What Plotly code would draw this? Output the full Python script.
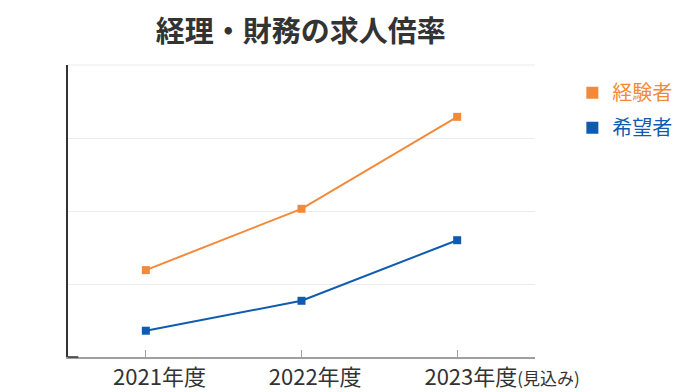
import plotly.graph_objects as go

categories = ["2021年度", "2022年度", "2023年度<span style='font-size:17px'>(見込み)</span>"]
experienced = [1.19, 2.03, 3.29]
hopeful = [0.36, 0.77, 1.60]
series_names = ["経験者", "希望者"]
colors = ["#F28A3A", "#0F5BAF"]

FONT = "Noto Sans CJK JP"
fig = go.Figure()
for vals, name, col, grp in [(experienced, series_names[0], colors[0], "a"),
                             (hopeful, series_names[1], colors[1], "b")]:
    fig.add_trace(go.Scatter(
        x=categories, y=vals, mode="lines+markers", name=name,
        line=dict(color=col, width=2),
        marker=dict(symbol="square", size=8, color=col),
        showlegend=False, hoverinfo="skip"))
    fig.add_trace(go.Scatter(
        x=[None], y=[None], mode="markers", legendgroup=grp,
        name=f"<span style='color:{col}'>{name}</span>",
        marker=dict(symbol="square", size=15, color=col)))

fig.update_layout(
    width=693, height=392,
    margin=dict(l=68, r=158, t=65, b=35, autoexpand=False),
    paper_bgcolor="white", plot_bgcolor="white",
    font=dict(family=FONT, color="#333333"),
    title=dict(text="<b>経理・財務の求人倍率</b>", x=0.434, xanchor="center",
               xref="container", y=0.918, yanchor="middle",
               font=dict(size=29, color="#333333")),
    legend=dict(x=1.08, xanchor="left", y=0.972, yanchor="top",
                font=dict(size=20, family=FONT), tracegroupgap=6,
                itemsizing="constant", bgcolor="rgba(0,0,0,0)"),
    xaxis=dict(type="category", range=[-0.5, 2.5], showline=True,
               linecolor="#a0a0a0", linewidth=1.5, ticks="inside",
               ticklen=7, tickcolor="#a0a0a0", showgrid=False,
               automargin=False, ticklabelposition="outside right",
               ticklabelshift=-34,
               tickfont=dict(size=22, color="#333333", family=FONT)),
    yaxis=dict(range=[0, 4], dtick=1, showticklabels=False, showline=True,
               linecolor="#333333", linewidth=1.5, gridcolor="#ebebeb",
               zeroline=False, ticks="", automargin=False),
)
fig.add_shape(type="line", xref="paper", yref="paper", x0=0, x1=1, y0=1, y1=1,
              line=dict(color="#ebebeb", width=1), layer="below")
fig.add_shape(type="line", xref="paper", yref="paper", x0=0, x1=0.022, y0=0, y1=0,
              line=dict(color="#333333", width=1.5))
fig.write_html("out.html", config={"displayModeBar": False},
               post_script="document.body.style.margin='0';")
